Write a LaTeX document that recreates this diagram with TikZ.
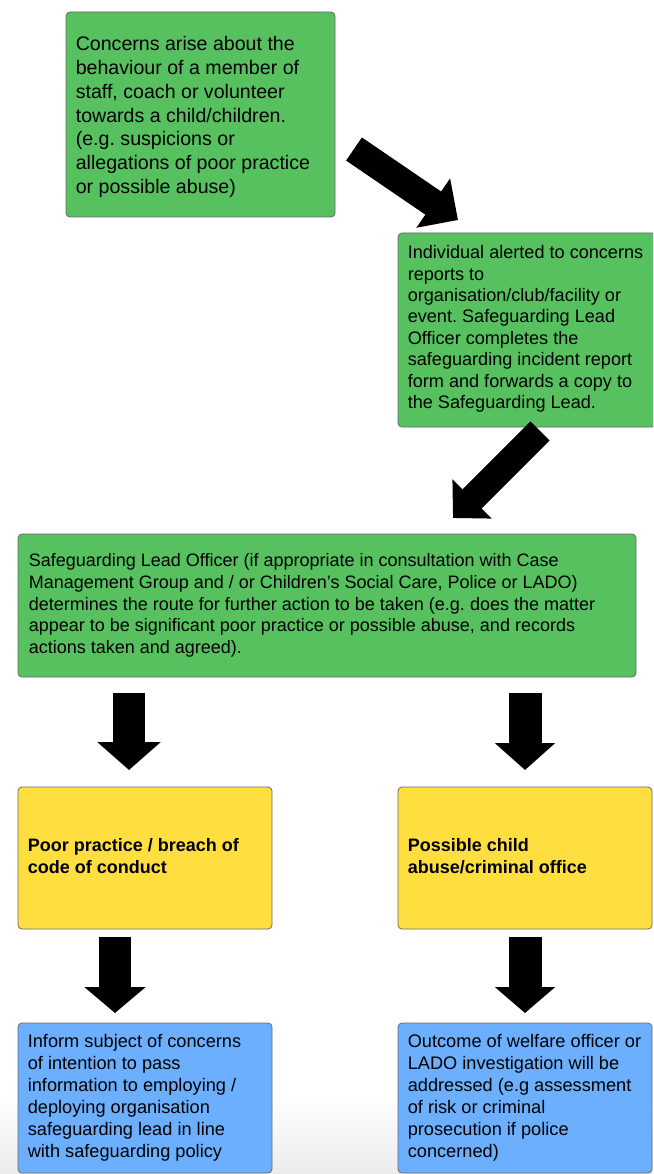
\documentclass[tikz,border=0pt]{standalone}
\usepackage{fontspec}
\setmainfont{Liberation Sans}
\frenchspacing
\usetikzlibrary{arrows.meta,calc}
\definecolor{boxgreen}{RGB}{86,193,94}
\definecolor{boxyellow}{RGB}{255,223,64}
\definecolor{boxblue}{RGB}{108,175,255}
\definecolor{boxline}{RGB}{105,105,105}
\definecolor{fadegray}{RGB}{236,236,236}
\tikzset{
  box/.style={draw=boxline, line width=0.8pt, rounded corners=4pt, inner sep=0pt, anchor=center},
  gbox/.style={box, fill=boxgreen},
  ybox/.style={box, fill=boxyellow},
  bbox/.style={box, fill=boxblue},
  txt/.style={align=left, inner sep=0pt, anchor=west, text=black},
  bigarrow/.style n args={3}{line width=#1, line cap=butt,
    -{Triangle[length=#3 0, width=#2 0]}, black},
}
\begin{document}
\begin{tikzpicture}[x=1pt,y=-1pt]
\clip (0,0) rectangle (653,1174);
\fill[white] (0,0) rectangle (653,1174);
\shade[top color=white, bottom color=fadegray] (0,1095) rectangle (653,1174);

% boxes
\node[gbox, minimum width=269pt, minimum height=205pt] (b1) at (200.5,114.5) {};
\node[gbox, minimum width=258pt, minimum height=194pt] (b2) at (527,330) {};
\node[gbox, minimum width=618pt, minimum height=143pt] (b3) at (327,605.5) {};
\node[ybox, minimum width=254pt, minimum height=142pt] (y1) at (145,858) {};
\node[ybox, minimum width=254pt, minimum height=142pt] (y2) at (525,858) {};
\node[bbox, minimum width=254pt, minimum height=150pt] (u1) at (145,1098) {};
\node[bbox, minimum width=254pt, minimum height=150pt] (u2) at (525,1098) {};

% texts
\node[txt, font=\fontsize{19.6}{23.9}\selectfont] (t1) at ($(b1.west)+(10,2.5)$)
  {Concerns arise about the\\ behaviour of a member of\\ staff, coach or volunteer\\ towards a child/children.\\ (e.g. suspicions or\\ allegations of poor practice\\ or possible abuse)};

\node[txt, font=\fontsize{18.1}{21.4}\selectfont] (t2) at ($(b2.west)+(10,-1)$)
  {Individual alerted to concerns\\ reports to\\ organisation/club/facility or\\ event. Safeguarding Lead\\ Officer completes the\\ safeguarding incident report\\ form and forwards a copy to\\ the Safeguarding Lead.};

\node[txt, font=\fontsize{18}{21.6}\selectfont] (t3) at ($(b3.west)+(11,0)$)
  {Safeguarding Lead Officer (if appropriate in consultation with Case\\ Management Group and / or Children’s Social Care, Police or LADO)\\ determines the route for further action to be taken (e.g. does the matter\\ appear to be significant poor practice or possible abuse, and records\\ actions taken and agreed).};

\node[txt, font=\fontsize{18}{22}\selectfont\bfseries] (ty1) at ($(y1.west)+(10,-2)$)
  {Poor practice / breach of\\ code of conduct};

\node[txt, font=\fontsize{18}{22}\selectfont\bfseries] (ty2) at ($(y2.west)+(10,-2)$)
  {Possible child\\ abuse/criminal office};

\node[txt, font=\fontsize{18.2}{22}\selectfont] (tu1) at ($(u1.west)+(10,0)$)
  {Inform subject of concerns\\ of intention to pass\\ information to employing /\\ deploying organisation\\ safeguarding lead in line\\ with safeguarding policy};

\node[txt, font=\fontsize{18.2}{22}\selectfont] (tu2) at ($(u2.west)+(10,0)$)
  {Outcome of welfare officer or\\ LADO investigation will be\\ addressed (e.g assessment\\ of risk or criminal\\ prosecution if police\\ concerned)};

% arrow end points
\coordinate (a1s) at (354,149);
\coordinate (a1e) at (458,220);
\coordinate (a2s) at (540,431);
\coordinate (a2e) at (453,518);
\coordinate (a3s) at (129,693);
\coordinate (a3e) at (129,770);
\coordinate (a4s) at (525,693);
\coordinate (a4e) at (525,770);
\coordinate (a5s) at (115,937);
\coordinate (a5e) at (115,1013);
\coordinate (a6s) at (525,937);
\coordinate (a6e) at (525,1013);

\draw[bigarrow={28pt}{58pt}{30pt}] (a1s) -- (a1e);
\draw[bigarrow={27pt}{54pt}{27pt}] (a2s) -- (a2e);
\draw[bigarrow={32pt}{62pt}{28pt}] (a3s) -- (a3e);
\draw[bigarrow={33pt}{59pt}{27pt}] (a4s) -- (a4e);
\draw[bigarrow={32pt}{60pt}{26pt}] (a5s) -- (a5e);
\draw[bigarrow={33pt}{59pt}{26pt}] (a6s) -- (a6e);
\end{tikzpicture}
\end{document}
